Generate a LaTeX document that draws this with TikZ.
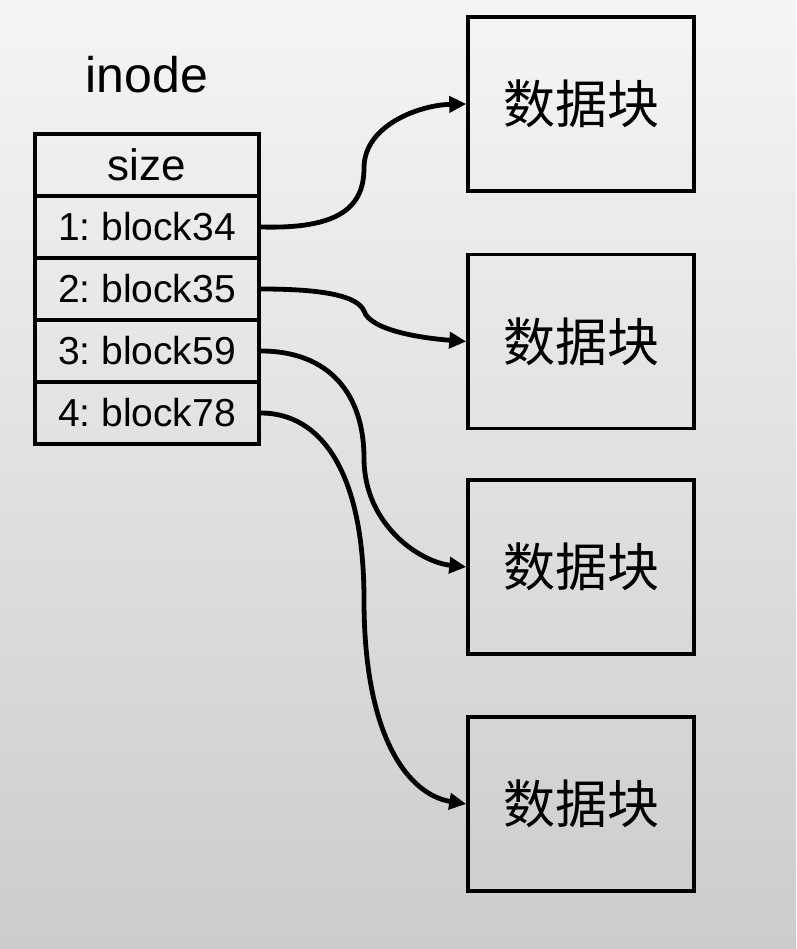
\documentclass[tikz,border=0pt]{standalone}
\usepackage{fontspec}
\setmainfont{Liberation Sans}
\newfontfamily\cjk{Noto Sans CJK SC}
\usetikzlibrary{arrows.meta}
\frenchspacing
\begin{document}
\begin{tikzpicture}[x=1pt,y=-1pt,
  cell/.style={draw=black,line width=3.5pt,minimum width=224pt,minimum height=62pt,inner sep=0pt,
    font=\fontsize{39}{40}\selectfont},
  datablock/.style={draw=black,line width=3.5pt,minimum width=226pt,minimum height=174pt,inner sep=0pt,
    font=\cjk\fontsize{52}{54}\selectfont},
  link/.style={line width=4.8pt,-{Triangle[length=17pt,width=16pt]}}]
\shade[top color=black!4,bottom color=black!20] (0,0) rectangle (796,949);
\useasboundingbox (0,0) rectangle (796,949);
\node[font=\fontsize{50}{52}\selectfont] (title) at (147,75) {inode};
\node[cell] (size) at (147,165) {\fontsize{44}{46}\selectfont size};
\node[cell] (r1) at (147,227) {1: block34};
\node[cell] (r2) at (147,289) {2: block35};
\node[cell] (r3) at (147,351) {3: block59};
\node[cell] (r4) at (147,413) {4: block78};
\node[datablock] (d1) at (581,104) {数据块};
\node[datablock] (d2) at (581,341.5) {数据块};
\node[datablock] (d3) at (581,567) {数据块};
\node[datablock] (d4) at (581,804) {数据块};
\coordinate (m1) at (364,168);
\coordinate (m2) at (364,311);
\coordinate (m3) at (364,458);
\coordinate (m4) at (364,600);
\draw[link] (r1.east) .. controls (335,229) and (364,210) .. (m1) .. controls (364,125) and (420,105) .. (d1.west);
\draw[link] (r2.east) .. controls (320,289) and (357,295) .. (m2) .. controls (370,330) and (420,338) .. (d2.west);
\draw[link] (r3.east) .. controls (330,351) and (364,395) .. (m3) .. controls (364,525) and (420,562) .. (d3.west);
\draw[link] (r4.east) .. controls (320,413) and (364,470) .. (m4) .. controls (364,740) and (410,795) .. (d4.west);
\end{tikzpicture}
\end{document}
